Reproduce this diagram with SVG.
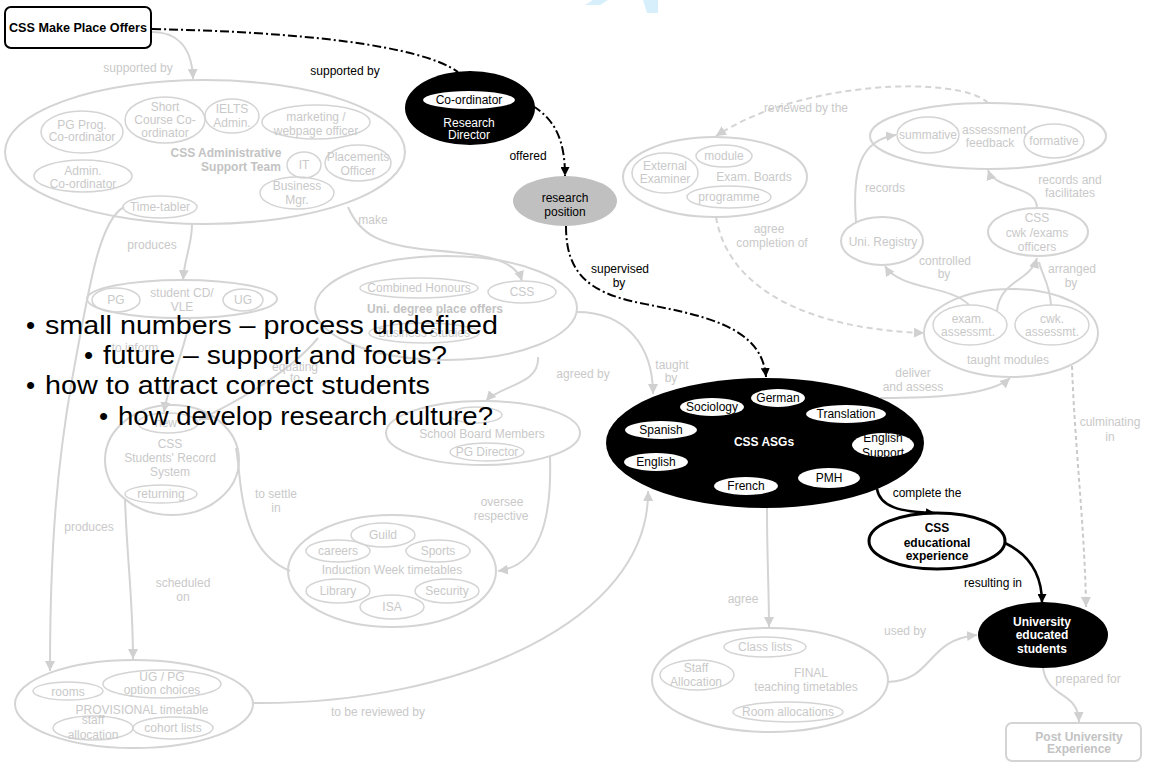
<svg xmlns="http://www.w3.org/2000/svg" width="1151" height="763" viewBox="0 0 1151 763">
  <style>
    text { font-family: "Liberation Sans", Arial, sans-serif; font-size: 12px; text-anchor: middle; }
    .gt { fill: #c9c9c9; }
    .gb { fill: #c3c3c3; font-weight: bold; }
    .kt { fill: #000; }
    .wt { fill: #fff; }
    .kb { fill: #000; font-weight: bold; }
    .wb { fill: #fff; font-weight: bold; }
    .ge { fill: none; stroke: #d4d4d4; stroke-width: 2; }
    .gs { fill: none; stroke: #d4d4d4; stroke-width: 1.5; }
    .gl { fill: none; stroke: #d4d4d4; stroke-width: 2; }
    .gd { fill: none; stroke: #d4d4d4; stroke-width: 2; stroke-dasharray: 6 4; }
    .gdot { fill: none; stroke: #cacaca; stroke-width: 2; stroke-dasharray: 4 3; }
    .kdd { fill: none; stroke: #000; stroke-width: 2; stroke-dasharray: 9 3 2 3; }
    .ks { fill: none; stroke: #000; stroke-width: 2.5; }
    .we { fill: #fff; stroke: none; }
    .big { font-size: 26px; text-anchor: start; fill: #000; }
  </style>
  <defs>
    <marker id="ak" viewBox="0 0 10 10" refX="10" refY="5" markerWidth="9" markerHeight="9" markerUnits="userSpaceOnUse" orient="auto">
      <path d="M0,0 L10,5 L0,10 z" fill="#000"/>
    </marker>
    <marker id="ag" viewBox="0 0 10 10" refX="10" refY="5" markerWidth="10" markerHeight="10" markerUnits="userSpaceOnUse" orient="auto">
      <path d="M0,0 L10,5 L0,10 z" fill="#d0d0d0"/>
    </marker>
  </defs>
  <rect width="1151" height="763" fill="#fff"/>

  <!-- watermark fragment at the top edge -->
  <g id="watermark" fill="#d6effa">
    <polygon points="593,0 608,0 600,5 585,5"/>
    <polygon points="643,0 658,0 658,13 647,13"/>
  </g>

  <!-- connectors -->
  <g id="connectors">
    <!-- faded -->
    <path class="gl" d="M152,32 C175,32 192,45 193,79" marker-end="url(#ag)"/>
    <path class="gl" d="M348,207 C360,235 380,245 430,250 C480,254 515,258 522,281" marker-end="url(#ag)"/>
    <path class="gl" d="M192,224 C192,245 185,255 183,280" marker-end="url(#ag)"/>
    <path class="gl" d="M124,207 C100,220 90,280 72,380 C58,460 50,540 50,671" marker-end="url(#ag)"/>
    <path class="gl" d="M190,318 C185,350 168,385 164,412" marker-end="url(#ag)"/>
    <path class="gl" d="M318,338 C290,372 240,400 199,420" marker-end="url(#ag)"/>
    <path class="gl" d="M125,499 C127,560 133,600 133,659" marker-end="url(#ag)"/>
    <path class="gl" d="M236,448 C242,480 238,550 290,571"/>
    <path class="gl" d="M538,357 C540,385 500,385 486,401" marker-end="url(#ag)"/>
    <path class="gl" d="M577,312 C625,312 653,345 653,394" marker-end="url(#ag)"/>
    <path class="gl" d="M550,456 C552,520 540,565 498,571" marker-end="url(#ag)"/>
    <path class="gl" d="M253,703 C460,705 650,620 648,491" marker-end="url(#ag)"/>
    <path class="gd" d="M988,103 C960,75 800,80 716,136" marker-end="url(#ag)"/>
    <path class="gd" d="M716,217 C730,300 830,330 924,333" marker-end="url(#ag)"/>
    <path class="gl" d="M856,222 C852,170 860,140 896,135" marker-end="url(#ag)"/>
    <path class="gl" d="M1037,208 C1037,185 995,190 988,170" marker-end="url(#ag)"/>
    <path class="gl" d="M969,305 C950,285 900,290 885,266" marker-end="url(#ag)"/>
    <path class="gl" d="M997,311 C1000,280 1030,282 1037,258" marker-end="url(#ag)"/>
    <path class="gl" d="M1051,305 C1050,285 1042,275 1039,262"/>
    <path class="gl" d="M880,398 C930,398 990,396 1010,378" marker-end="url(#ag)"/>
    <path class="gdot" d="M1072,366 C1075,450 1085,530 1086,607" marker-end="url(#ag)"/>
    <path class="gl" d="M767,508 C767,560 769,590 769,627" marker-end="url(#ag)"/>
    <path class="gl" d="M888,682 C935,680 925,640 977,635" marker-end="url(#ag)"/>
    <path class="gl" d="M1043,668 C1048,700 1078,690 1079,722" marker-end="url(#ag)"/>
    <!-- highlighted -->
    <path class="kdd" d="M152,29 C300,32 420,45 458,72"/>
    <path class="kdd" d="M533,106 C555,120 565,140 565,176" marker-end="url(#ak)"/>
    <path class="kdd" d="M566,226 C566,270 585,292 640,303 C700,315 762,325 766,377" marker-end="url(#ak)"/>
    <path class="ks" d="M877,489 C880,507 900,512 935,513" marker-end="url(#ak)"/>
    <path class="ks" d="M1005,543 C1030,555 1042,575 1042,603" marker-end="url(#ak)"/>
  </g>

  <!-- connector labels -->
  <g id="labels">
    <text class="gt" x="138" y="72">supported by</text>
    <text class="gt" x="373" y="224">make</text>
    <text class="gt" x="152" y="249">produces</text>
    <text class="gt" x="135" y="352">to inform</text>
    <text class="gt" x="295" y="371">equating</text>
    <text class="gt" x="295" y="382">to</text>
    <text class="gt" x="583" y="378">agreed by</text>
    <text class="gt" x="672" y="369">taught</text>
    <text class="gt" x="671" y="382">by</text>
    <text class="gt" x="276" y="498">to settle</text>
    <text class="gt" x="276" y="512">in</text>
    <text class="gt" x="89" y="531">produces</text>
    <text class="gt" x="183" y="587">scheduled</text>
    <text class="gt" x="183" y="601">on</text>
    <text class="gt" x="502" y="506">oversee</text>
    <text class="gt" x="501" y="520">respective</text>
    <text class="gt" x="378" y="716">to be reviewed by</text>
    <text class="gt" x="806" y="112">reviewed by the</text>
    <text class="gt" x="769" y="233">agree</text>
    <text class="gt" x="772" y="247">completion of</text>
    <text class="gt" x="885" y="192">records</text>
    <text class="gt" x="1070" y="184">records and</text>
    <text class="gt" x="1070" y="197">facilitates</text>
    <text class="gt" x="945" y="265">controlled</text>
    <text class="gt" x="944" y="278">by</text>
    <text class="gt" x="1072" y="273">arranged</text>
    <text class="gt" x="1071" y="287">by</text>
    <text class="gt" x="913" y="377">deliver</text>
    <text class="gt" x="913" y="391">and assess</text>
    <text class="gt" x="1110" y="426">culminating</text>
    <text class="gt" x="1110" y="441">in</text>
    <text class="gt" x="743" y="603">agree</text>
    <text class="gt" x="905" y="635">used by</text>
    <text class="gt" x="1088" y="683">prepared for</text>
    <text class="kt" x="345" y="75">supported by</text>
    <text class="kt" x="528" y="160">offered</text>
    <text class="kt" x="620" y="273">supervised</text>
    <text class="kt" x="619" y="287">by</text>
    <text class="kt" x="927" y="497">complete the</text>
    <text class="kt" x="993" y="587">resulting in</text>
  </g>

  <!-- faded nodes -->
  <g id="admin-team">
    <ellipse class="ge" cx="205" cy="152" rx="200" ry="72"/>
    <ellipse class="gs" cx="82" cy="132" rx="41" ry="21"/>
    <text class="gt" x="82" y="129">PG Prog.</text>
    <text class="gt" x="82" y="141">Co-ordinator</text>
    <ellipse class="gs" cx="165" cy="120" rx="40" ry="23"/>
    <text class="gt" x="165" y="111">Short</text>
    <text class="gt" x="165" y="124">Course Co-</text>
    <text class="gt" x="165" y="137">ordinator</text>
    <ellipse class="gs" cx="232" cy="116" rx="27" ry="17"/>
    <text class="gt" x="232" y="113">IELTS</text>
    <text class="gt" x="232" y="127">Admin.</text>
    <ellipse class="gs" cx="316" cy="122" rx="54" ry="17"/>
    <text class="gt" x="316" y="121">marketing /</text>
    <text class="gt" x="316" y="135">webpage officer</text>
    <text class="gb" x="226" y="157">CSS Administrative</text>
    <text class="gb" x="241" y="171">Support Team</text>
    <ellipse class="gs" cx="83" cy="176" rx="49" ry="16"/>
    <text class="gt" x="83" y="175">Admin.</text>
    <text class="gt" x="83" y="188">Co-ordinator</text>
    <ellipse class="gs" cx="304" cy="165" rx="17" ry="13"/>
    <text class="gt" x="304" y="169">IT</text>
    <ellipse class="gs" cx="358" cy="163" rx="33" ry="18"/>
    <text class="gt" x="358" y="161">Placements</text>
    <text class="gt" x="358" y="175">Officer</text>
    <ellipse class="gs" cx="297" cy="193" rx="37" ry="16"/>
    <text class="gt" x="297" y="190">Business</text>
    <text class="gt" x="297" y="204">Mgr.</text>
    <ellipse class="gs" cx="160" cy="207" rx="37" ry="11"/>
    <text class="gt" x="160" y="211">Time-tabler</text>
  </g>

  <g id="student-cd">
    <ellipse class="ge" cx="182" cy="299" rx="95" ry="19"/>
    <ellipse class="gs" cx="116" cy="300" rx="24" ry="12"/>
    <text class="gt" x="116" y="304">PG</text>
    <ellipse class="gs" cx="243" cy="300" rx="20" ry="11"/>
    <text class="gt" x="243" y="304">UG</text>
    <text class="gt" x="182" y="297">student CD/</text>
    <text class="gt" x="182" y="311">VLE</text>
  </g>

  <g id="uni-offers">
    <ellipse class="ge" cx="446" cy="308" rx="131" ry="52"/>
    <ellipse class="gs" cx="419" cy="288" rx="59" ry="10"/>
    <text class="gt" x="419" y="292">Combined Honours</text>
    <ellipse class="gs" cx="522" cy="292" rx="34" ry="11"/>
    <text class="gt" x="522" y="296">CSS</text>
    <text class="gb" x="435" y="313">Uni. degree place offers</text>
    <ellipse class="gs" cx="424" cy="333" rx="55" ry="10"/>
    <text class="gt" x="424" y="337">Business Studies</text>
  </g>

  <g id="school-board">
    <ellipse class="ge" cx="483" cy="433" rx="97" ry="32"/>
    <ellipse class="gs" cx="476" cy="415" rx="26" ry="8"/>
    <text class="gt" x="482" y="438">School Board Members</text>
    <ellipse class="gs" cx="487" cy="452" rx="37" ry="9"/>
    <text class="gt" x="487" y="456">PG Director</text>
  </g>

  <g id="records-system">
    <ellipse class="ge" cx="172" cy="460" rx="67" ry="55"/>
    <ellipse class="gs" cx="168" cy="423" rx="30" ry="10"/>
    <text class="gt" x="166" y="427">new</text>
    <text class="gt" x="170" y="448">CSS</text>
    <text class="gt" x="170" y="462">Students' Record</text>
    <text class="gt" x="170" y="476">System</text>
    <ellipse class="gs" cx="161" cy="494" rx="36" ry="9"/>
    <text class="gt" x="161" y="498">returning</text>
  </g>

  <g id="induction">
    <ellipse class="ge" cx="392" cy="571" rx="104" ry="56"/>
    <ellipse class="gs" cx="383" cy="535" rx="32" ry="12"/>
    <text class="gt" x="383" y="539">Guild</text>
    <ellipse class="gs" cx="338" cy="551" rx="32" ry="11"/>
    <text class="gt" x="338" y="555">careers</text>
    <ellipse class="gs" cx="438" cy="551" rx="32" ry="11"/>
    <text class="gt" x="438" y="555">Sports</text>
    <text class="gt" x="392" y="574">Induction Week timetables</text>
    <ellipse class="gs" cx="338" cy="591" rx="32" ry="12"/>
    <text class="gt" x="338" y="595">Library</text>
    <ellipse class="gs" cx="447" cy="591" rx="32" ry="12"/>
    <text class="gt" x="447" y="595">Security</text>
    <ellipse class="gs" cx="392" cy="607" rx="32" ry="12"/>
    <text class="gt" x="392" y="611">ISA</text>
  </g>

  <g id="provisional">
    <ellipse class="ge" cx="134" cy="704" rx="119" ry="44"/>
    <ellipse class="gs" cx="68" cy="691" rx="35" ry="9"/>
    <text class="gt" x="68" y="696">rooms</text>
    <ellipse class="gs" cx="162" cy="684" rx="59" ry="14"/>
    <text class="gt" x="162" y="681">UG / PG</text>
    <text class="gt" x="162" y="694">option choices</text>
    <text class="gt" x="142" y="714">PROVISIONAL timetable</text>
    <ellipse class="gs" cx="93" cy="728" rx="40" ry="12"/>
    <text class="gt" x="93" y="724">staff</text>
    <text class="gt" x="93" y="739">allocation</text>
    <ellipse class="gs" cx="173" cy="728" rx="40" ry="11"/>
    <text class="gt" x="173" y="732">cohort lists</text>
  </g>

  <g id="exam-boards">
    <ellipse class="ge" cx="715" cy="177" rx="92" ry="40"/>
    <ellipse class="gs" cx="665" cy="173" rx="33" ry="20"/>
    <text class="gt" x="665" y="170">External</text>
    <text class="gt" x="665" y="183">Examiner</text>
    <ellipse class="gs" cx="724" cy="156" rx="28" ry="11"/>
    <text class="gt" x="724" y="160">module</text>
    <text class="gt" x="754" y="181">Exam. Boards</text>
    <ellipse class="gs" cx="729" cy="197" rx="42" ry="11"/>
    <text class="gt" x="729" y="201">programme</text>
  </g>

  <g id="assessment-feedback">
    <ellipse class="ge" cx="988" cy="136" rx="118" ry="33"/>
    <ellipse class="gs" cx="928" cy="135" rx="31" ry="18"/>
    <text class="gt" x="928" y="139">summative</text>
    <text class="gt" x="994" y="134">assessment</text>
    <text class="gt" x="990" y="147">feedback</text>
    <ellipse class="gs" cx="1054" cy="141" rx="30" ry="17"/>
    <text class="gt" x="1054" y="145">formative</text>
  </g>

  <g id="uni-registry">
    <ellipse class="ge" cx="882" cy="241" rx="41" ry="24"/>
    <text class="gt" x="883" y="246">Uni. Registry</text>
  </g>

  <g id="exams-officers">
    <ellipse class="ge" cx="1038" cy="232" rx="50" ry="24"/>
    <text class="gt" x="1037" y="222">CSS</text>
    <text class="gt" x="1037" y="237">cwk /exams</text>
    <text class="gt" x="1037" y="251">officers</text>
  </g>

  <g id="taught-modules">
    <ellipse class="ge" cx="1011" cy="333" rx="87" ry="44"/>
    <ellipse class="gs" cx="970" cy="325" rx="37" ry="20"/>
    <text class="gt" x="968" y="323">exam.</text>
    <text class="gt" x="968" y="336">assessmt.</text>
    <ellipse class="gs" cx="1052" cy="325" rx="37" ry="20"/>
    <text class="gt" x="1052" y="323">cwk.</text>
    <text class="gt" x="1052" y="336">assessmt.</text>
    <text class="gt" x="1008" y="364">taught modules</text>
  </g>

  <g id="final-timetables">
    <ellipse class="ge" cx="770" cy="680" rx="118" ry="52"/>
    <ellipse class="gs" cx="765" cy="647" rx="41" ry="10"/>
    <text class="gt" x="765" y="651">Class lists</text>
    <ellipse class="gs" cx="697" cy="675" rx="37" ry="15"/>
    <text class="gt" x="696" y="672">Staff</text>
    <text class="gt" x="696" y="686">Allocation</text>
    <text class="gt" x="811" y="677">FINAL</text>
    <text class="gt" x="806" y="691">teaching timetables</text>
    <ellipse class="gs" cx="788" cy="712" rx="55" ry="10"/>
    <text class="gt" x="788" y="716">Room allocations</text>
  </g>

  <g id="post-university">
    <rect x="1006" y="723" width="135" height="38" rx="6" fill="none" stroke="#d4d4d4" stroke-width="2"/>
    <text class="gb" x="1079" y="741">Post University</text>
    <text class="gb" x="1079" y="753">Experience</text>
  </g>

  <!-- highlighted nodes -->
  <g id="place-offers">
    <rect x="5" y="7" width="146" height="41" rx="6" fill="#fff" stroke="#000" stroke-width="2"/>
    <text class="kb" x="78" y="32" textLength="138" lengthAdjust="spacingAndGlyphs">CSS Make Place Offers</text>
  </g>

  <g id="research-director">
    <ellipse cx="470" cy="108" rx="65" ry="37" fill="#000"/>
    <ellipse class="we" cx="469" cy="100" rx="46" ry="9"/>
    <text class="kt" x="469" y="104">Co-ordinator</text>
    <text class="wt" x="469" y="127">Research</text>
    <text class="wt" x="469" y="139">Director</text>
  </g>

  <g id="research-position">
    <ellipse cx="565" cy="201" rx="52" ry="25" fill="#c0c0c0"/>
    <text class="kt" x="565" y="202">research</text>
    <text class="kt" x="565" y="216">position</text>
  </g>

  <g id="css-asgs">
    <ellipse cx="765" cy="443" rx="159" ry="65" fill="#000"/>
    <ellipse class="we" cx="712" cy="407" rx="32" ry="9"/>
    <text class="kt" x="712" y="411">Sociology</text>
    <ellipse class="we" cx="778" cy="398" rx="27" ry="9"/>
    <text class="kt" x="778" y="402">German</text>
    <ellipse class="we" cx="846" cy="414" rx="40" ry="9"/>
    <text class="kt" x="846" y="418">Translation</text>
    <ellipse class="we" cx="661" cy="430" rx="36" ry="9"/>
    <text class="kt" x="661" y="434">Spanish</text>
    <ellipse class="we" cx="883" cy="445" rx="31" ry="12"/>
    <text class="kt" x="883" y="442">English</text>
    <text class="kt" x="883" y="457">Support</text>
    <ellipse class="we" cx="656" cy="462" rx="32" ry="9"/>
    <text class="kt" x="656" y="466">English</text>
    <ellipse class="we" cx="746" cy="486" rx="32" ry="9"/>
    <text class="kt" x="746" y="490">French</text>
    <ellipse class="we" cx="829" cy="478" rx="31" ry="10"/>
    <text class="kt" x="829" y="482">PMH</text>
    <text class="wb" x="764" y="446">CSS ASGs</text>
  </g>

  <g id="educational-experience">
    <ellipse cx="937" cy="541" rx="68" ry="28" fill="#fff" stroke="#000" stroke-width="3"/>
    <text class="kb" x="937" y="532">CSS</text>
    <text class="kb" x="937" y="547">educational</text>
    <text class="kb" x="937" y="560">experience</text>
  </g>

  <g id="educated-students">
    <ellipse cx="1043" cy="635" rx="65" ry="33" fill="#000"/>
    <text class="wb" x="1042" y="626">University</text>
    <text class="wb" x="1042" y="639">educated</text>
    <text class="wb" x="1042" y="653">students</text>
  </g>

  <!-- bullet notes overlaid on the map -->
  <g id="notes">
    <text class="big" x="26" y="334">•</text>
    <text class="big" x="45" y="334" textLength="453" lengthAdjust="spacingAndGlyphs">small numbers – process undefined</text>
    <text class="big" x="84" y="364">•</text>
    <text class="big" x="103" y="364" textLength="344" lengthAdjust="spacingAndGlyphs">future – support and focus?</text>
    <text class="big" x="26" y="394">•</text>
    <text class="big" x="45" y="394" textLength="385" lengthAdjust="spacingAndGlyphs">how to attract correct students</text>
    <text class="big" x="99" y="425">•</text>
    <text class="big" x="118" y="425" textLength="375" lengthAdjust="spacingAndGlyphs">how develop research culture?</text>
  </g>
</svg>
